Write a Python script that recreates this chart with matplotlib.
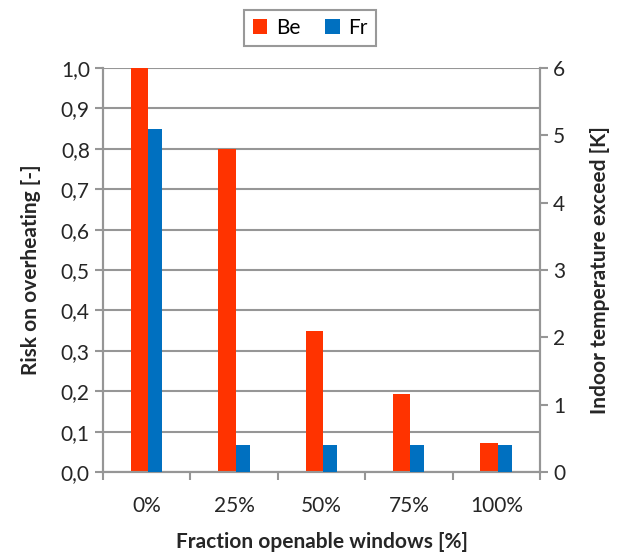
import matplotlib.pyplot as plt
import numpy as np

categories = ["0%", "25%", "50%", "75%", "100%"]
be_risk = [1.0, 0.8, 0.35, 0.193, 0.073]
fr_temp = [5.1, 0.4, 0.4, 0.4, 0.4]

red = "#FF3300"
blue = "#0070C0"
grey = "#969696"

plt.rcParams['font.family'] = ['Lato', 'DejaVu Sans']

fig = plt.figure(figsize=(6.19, 5.55), dpi=100)
ax = fig.add_axes([103/619, 1 - 472/555, 437/619, 404/555])
ax2 = ax.twinx()

x = np.arange(len(categories))
ax.bar(x - 0.183, be_risk, width=0.2, align='edge', color=red, label="Be", zorder=3)
ax2.bar(x + 0.018, fr_temp, width=0.16, align='edge', color=blue, label="Fr", zorder=3)

ax.set_xlim(-0.5, len(categories) - 0.5)
ax.set_ylim(0, 1.0)
ax2.set_ylim(0, 6)
ax.set_yticks(np.arange(0, 1.01, 0.1))
ax.set_yticklabels([f"{v:.1f}".replace(".", ",") for v in np.arange(0, 1.01, 0.1)])
ax2.set_yticks(range(7))

ax.set_xticks(x)
ax.set_xticklabels(categories)
ax.set_xticks(np.arange(-0.5, len(categories)), minor=True)
ax.tick_params(axis='x', which='major', length=0, pad=17, labelsize=15, colors="#262626")
ax.tick_params(axis='x', which='minor', length=6, width=1.5, color=grey)
ax.tick_params(axis='y', length=6, width=1.5, color=grey, labelsize=15, labelcolor="#262626")
ax2.tick_params(axis='y', length=6, width=1.5, color=grey, labelsize=15, labelcolor="#262626")

ax.grid(axis='y', color=grey, linewidth=1.5, zorder=0)
ax.set_axisbelow(True)
for a in (ax, ax2):
    a.spines['top'].set_visible(False)
    for s in ('left', 'right', 'bottom'):
        a.spines[s].set_color(grey)
        a.spines[s].set_linewidth(1.5)

ax.set_ylabel("Risk on overheating [-]", fontsize=15, fontweight='bold', color="#262626", labelpad=14)
ax2.set_ylabel("Indoor temperature exceed [K]", fontsize=15, fontweight='bold', color="#262626", labelpad=18)
ax.set_xlabel("Fraction openable windows [%]", fontsize=15, fontweight='bold', color="#262626", labelpad=12)

h1, l1 = ax.get_legend_handles_labels()
h2, l2 = ax2.get_legend_handles_labels()
leg = fig.legend(h1 + h2, l1 + l2, loc='center', bbox_to_anchor=(310/619, 1 - 28/555),
                 ncol=2, fontsize=15, frameon=True, fancybox=False, handlelength=0.7,
                 handleheight=0.7, columnspacing=1.2, handletextpad=0.4)
leg.get_frame().set_edgecolor("#808080")
leg.get_frame().set_linewidth(1.5)

fig.savefig("out.png", dpi=100)
